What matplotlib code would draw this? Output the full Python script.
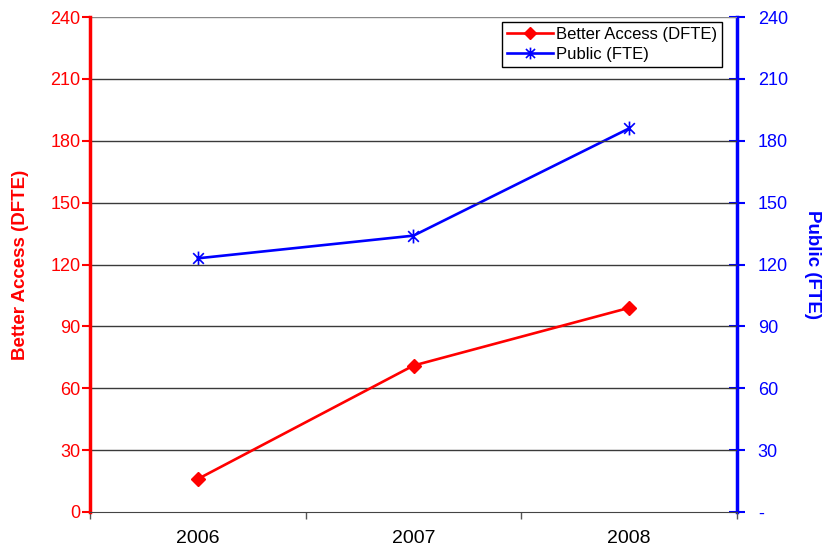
import matplotlib
matplotlib.use("Agg")
import matplotlib.pyplot as plt
from matplotlib.path import Path
from matplotlib.ticker import FixedLocator, FuncFormatter

plt.rcParams['font.family'] = ['Liberation Sans', 'DejaVu Sans']

years = ["2006", "2007", "2008"]
better_access = [16, 71, 99]
public = [123, 134, 186]
y_ticks = [0, 30, 60, 90, 120, 150, 180, 210, 240]

RED = "#ff0000"
BLUE = "#0000ff"

# asterisk marker: an X crossed by a vertical bar
star = Path(
    [(-1, -1), (1, 1), (-1, 1), (1, -1), (0, -1.3), (0, 1.3)],
    [Path.MOVETO, Path.LINETO, Path.MOVETO, Path.LINETO, Path.MOVETO, Path.LINETO],
)

fig = plt.figure(figsize=(8.23, 5.5), dpi=100)
ax = fig.add_axes([90 / 823, 38 / 550, 647 / 823, 495 / 550])
ax2 = ax.twinx()

x = list(range(len(years)))
l1, = ax.plot(x, better_access, color=RED, lw=1.9, marker="D", markersize=7.5,
              markerfacecolor=RED, markeredgecolor=RED, label="Better Access (DFTE)")
l2, = ax2.plot(x, public, color=BLUE, lw=1.9, marker=star, markersize=10,
               markerfacecolor="none", markeredgecolor=BLUE, markeredgewidth=1.2,
               label="Public (FTE)")

for a in (ax, ax2):
    a.set_ylim(0, 240)
    a.set_xlim(-0.5, len(years) - 0.5)
    a.set_yticks(y_ticks)

# horizontal gridlines
for v in y_ticks[1:]:
    ax.axhline(v, color="#3a3a3a" if v < 240 else "#888888", lw=1.0, zorder=0)

# categories centred between boundary ticks
ax.set_xticks(x)
ax.set_xticklabels(years, fontsize=14)
ax.tick_params(axis="x", which="major", length=0, pad=13)
ax.xaxis.set_minor_locator(FixedLocator([-0.5 + i for i in range(len(years) + 1)]))
ax.tick_params(axis="x", which="minor", length=5, width=1, color="#555555", direction="out")

ax.spines["top"].set_visible(False)
ax2.spines["top"].set_visible(False)
ax.spines["right"].set_visible(False)
ax2.spines["left"].set_visible(False)
ax2.spines["bottom"].set_visible(False)
ax.spines["bottom"].set_color("#444444")
ax.spines["left"].set_color(RED)
ax.spines["left"].set_linewidth(2.5)
ax2.spines["right"].set_color(BLUE)
ax2.spines["right"].set_linewidth(2.5)

ax.tick_params(axis="y", colors=RED, labelcolor=RED, labelsize=13, length=5.5,
               width=1.5, direction="out", pad=1.5)
ax2.tick_params(axis="y", colors=BLUE, labelcolor=BLUE, labelsize=13, length=12,
                width=1.5, direction="inout", pad=9)
ax2.yaxis.set_major_formatter(FuncFormatter(lambda v, p: "-" if v == 0 else f"{int(v)}"))

ax.set_ylabel("Better Access (DFTE)", color=RED, fontsize=13.5, fontweight="bold", labelpad=15)
ax2.set_ylabel("Public (FTE)", color=BLUE, fontsize=13.5, fontweight="bold",
               rotation=-90, labelpad=24)

leg = ax.legend(handles=[l1, l2], loc="upper right", bbox_to_anchor=(0.977, 0.99),
                fontsize=12, frameon=True, fancybox=False, framealpha=1,
                edgecolor="black", borderpad=0.3, handlelength=2.8,
                handletextpad=0.15, labelspacing=0.3, borderaxespad=0,
                markerscale=0.85)
leg.get_frame().set_linewidth(1.0)
ax.set_zorder(ax2.get_zorder() + 1)
ax.patch.set_visible(False)
leg.remove()
ax2.add_artist(leg)

fig.savefig("out.png", dpi=100)
